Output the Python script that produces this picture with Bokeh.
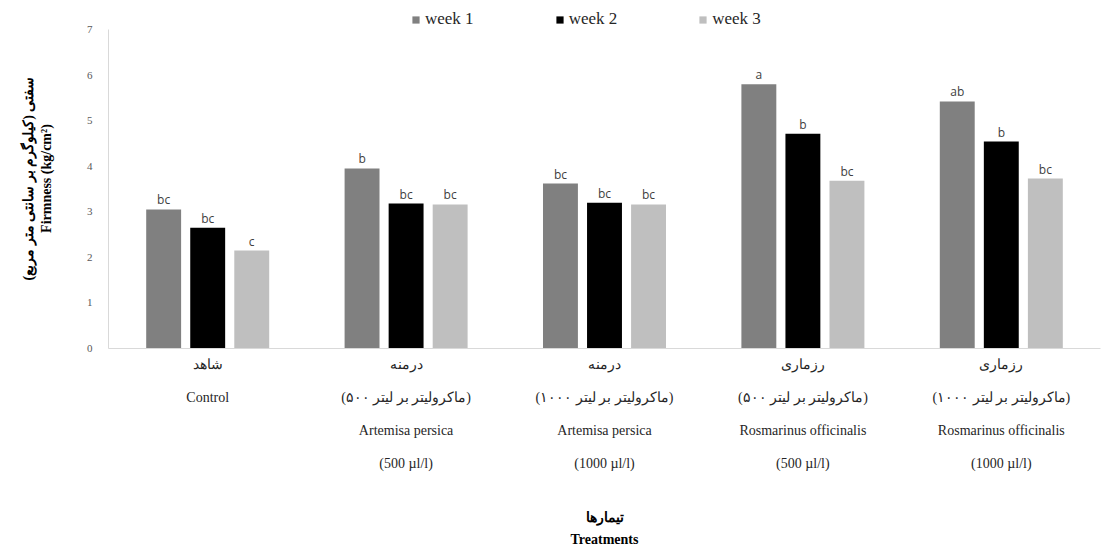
from bokeh.plotting import figure
from bokeh.models import ColumnDataSource, Legend, LegendItem, FactorRange
from bokeh.transform import dodge
from bokeh.core.properties import value
from bokeh.embed import file_html
from bokeh.resources import INLINE

treatments = [
    "شاهد\nControl",
    "درمنه\n(۵۰۰ ماکرولیتر بر لیتر)\nArtemisa persica\n(500 µl/l)",
    "درمنه\n(۱۰۰۰ ماکرولیتر بر لیتر)\nArtemisa persica\n(1000 µl/l)",
    "رزماری\n(۵۰۰ ماکرولیتر بر لیتر)\nRosmarinus officinalis\n(500 µl/l)",
    "رزماری\n(۱۰۰۰ ماکرولیتر بر لیتر)\nRosmarinus officinalis\n(1000 µl/l)",
]
week1 = [3.05, 3.95, 3.62, 5.80, 5.42]
week2 = [2.65, 3.18, 3.20, 4.71, 4.54]
week3 = [2.15, 3.16, 3.16, 3.68, 3.73]
letters1 = ["bc", "b", "bc", "a", "ab"]
letters2 = ["bc", "bc", "bc", "b", "b"]
letters3 = ["c", "bc", "bc", "bc", "bc"]
series_names = ["week 1", "week 2", "week 3"]
colors = ["#808080", "#000000", "#bfbfbf"]
y_ticks = [0, 1, 2, 3, 4, 5, 6, 7]

src = ColumnDataSource(dict(t=treatments, w1=week1, w2=week2, w3=week3,
                            l1=letters1, l2=letters2, l3=letters3))

p = figure(x_range=FactorRange(*treatments, range_padding=0), y_range=(0, 7.46),
           frame_width=992, frame_height=340,
           min_border_left=108, min_border_right=2, min_border_top=8, min_border_bottom=0,
           output_backend="svg", toolbar_location=None)
p.outline_line_color = None
p.xgrid.grid_line_color = None
p.ygrid.grid_line_color = None

offsets = [-0.222, 0.0, 0.222]
cols = ["w1", "w2", "w3"]
lcols = ["l1", "l2", "l3"]
items = []
for off, c, lc, col, name in zip(offsets, cols, lcols, colors, series_names):
    r = p.vbar(x=dodge("t", off, range=p.x_range), top=c, width=0.176, source=src,
               fill_color=col, line_color=None)
    items.append(LegendItem(label=name, renderers=[r]))
    p.text(x=dodge("t", off, range=p.x_range), y=c, text=lc, source=src,
           text_align="center", text_baseline="bottom", y_offset=-1,
           text_font=value("Open Sans"), text_font_size="12px", text_color="#404040")

legend = Legend(items=items, orientation="horizontal", location=(303, 319),
                glyph_width=9, glyph_height=9, label_standoff=5, spacing=81,
                padding=2, margin=0, border_line_color=None, background_fill_alpha=0,
                label_text_font="Liberation Serif", label_text_font_size="17px",
                label_text_color="#262626", label_height=17)
p.add_layout(legend, "center")

p.xaxis.major_label_text_font = "Liberation Serif"
p.xaxis.major_label_text_font_size = "14px"
p.xaxis.major_label_text_color = "#262626"
p.xaxis.major_label_text_line_height = 2.2
p.xaxis.major_label_standoff = 2
p.xaxis.major_tick_line_color = None
p.xaxis.minor_tick_line_color = None
p.xaxis.axis_line_color = "#d9d9d9"
p.xaxis.axis_label = "تیمارها\nTreatments"
p.xaxis.axis_label_text_font = "Liberation Serif"
p.xaxis.axis_label_text_font_style = "bold"
p.xaxis.axis_label_text_font_size = "14px"
p.xaxis.axis_label_text_color = "#000000"
p.xaxis.axis_label_text_line_height = 1.5
p.xaxis.axis_label_standoff = 36

p.yaxis.ticker = y_ticks
p.yaxis.bounds = (0, 7)
p.yaxis.major_label_text_font = "Liberation Serif"
p.yaxis.major_label_text_font_size = "11px"
p.yaxis.major_label_text_color = "#595959"
p.yaxis.major_label_standoff = 10
p.yaxis.major_tick_line_color = None
p.yaxis.minor_tick_line_color = None
p.yaxis.axis_line_color = "#d9d9d9"
p.yaxis.axis_label = "سفتی (کیلوگرم بر سانتی متر مربع)\nFirmness (kg/cm²)"
p.yaxis.axis_label_text_font = "Liberation Serif"
p.yaxis.axis_label_text_font_style = "bold"
p.yaxis.axis_label_text_font_size = "14px"
p.yaxis.axis_label_text_color = "#000000"
p.yaxis.axis_label_text_line_height = 1.2
p.yaxis.axis_label_standoff = 30

open("out.html", "w").write(file_html(p, INLINE))
